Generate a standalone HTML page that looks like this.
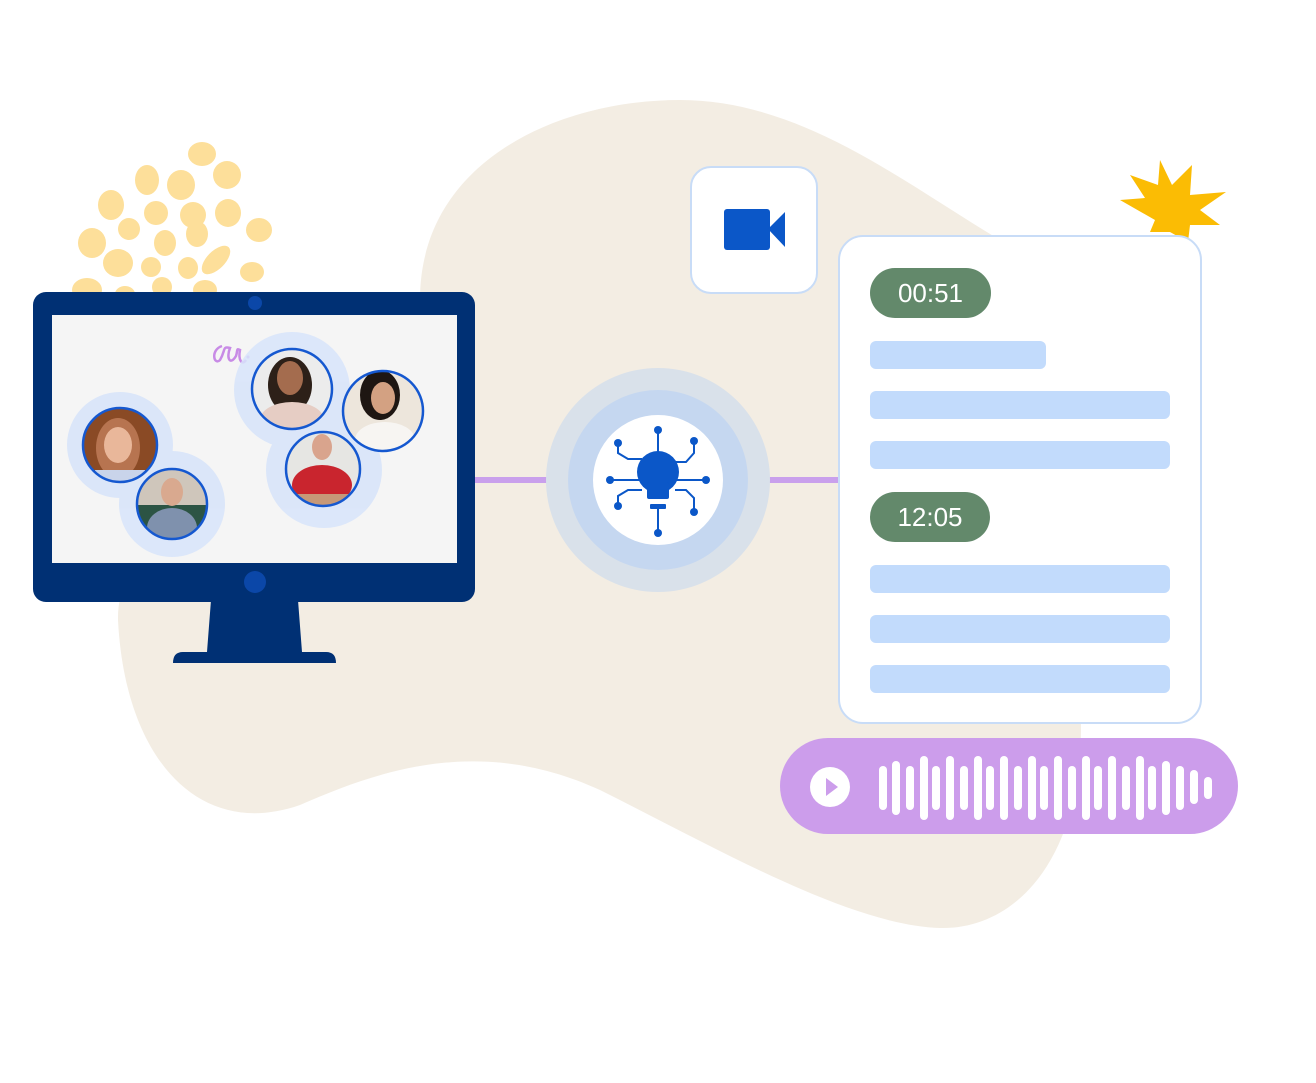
<!DOCTYPE html>
<html><head><meta charset="utf-8"><style>
html,body{margin:0;padding:0;background:#fff;}
body{width:1316px;height:1078px;overflow:hidden;font-family:"Liberation Sans",sans-serif;}
</style></head><body>
<svg width="1316" height="1078" viewBox="0 0 1316 1078" xmlns="http://www.w3.org/2000/svg">
<defs>
<clipPath id="c1"><circle cx="120" cy="445" r="37"/></clipPath>
<clipPath id="c2"><circle cx="172" cy="504" r="35"/></clipPath>
<clipPath id="c3"><circle cx="292" cy="389" r="40"/></clipPath>
<clipPath id="c4"><circle cx="383" cy="411" r="40"/></clipPath>
<clipPath id="c5"><circle cx="323" cy="469" r="37"/></clipPath>
</defs>
<!-- blob -->
<path d="M420 300 C420 160 560 100 680 100 C800 100 900 180 1000 240 L1080 700 C1090 850 1020 930 940 928 C850 925 720 850 600 790 C480 735 380 770 300 805 C200 840 125 760 118 620 C115 480 420 440 420 300 Z" fill="#f3ede3"/>
<!-- dots -->
<g fill="#fddf9a">
<ellipse cx="202" cy="154" rx="14" ry="12"/>
<ellipse cx="147" cy="180" rx="12" ry="15"/>
<ellipse cx="181" cy="185" rx="14" ry="15"/>
<ellipse cx="227" cy="175" rx="14" ry="14"/>
<ellipse cx="111" cy="205" rx="13" ry="15"/>
<ellipse cx="156" cy="213" rx="12" ry="12"/>
<ellipse cx="193" cy="215" rx="13" ry="13"/>
<ellipse cx="197" cy="234" rx="11" ry="13"/>
<ellipse cx="228" cy="213" rx="13" ry="14"/>
<ellipse cx="259" cy="230" rx="13" ry="12"/>
<ellipse cx="129" cy="229" rx="11" ry="11"/>
<ellipse cx="165" cy="243" rx="11" ry="13"/>
<ellipse cx="92" cy="243" rx="14" ry="15"/>
<ellipse cx="118" cy="263" rx="15" ry="14"/>
<ellipse cx="151" cy="267" rx="10" ry="10"/>
<ellipse cx="188" cy="268" rx="10" ry="11"/>
<ellipse cx="216" cy="260" rx="9" ry="18" transform="rotate(45 216 260)"/>
<ellipse cx="252" cy="272" rx="12" ry="10"/>
<ellipse cx="87" cy="290" rx="15" ry="12"/>
<ellipse cx="125" cy="294" rx="10" ry="8"/>
<ellipse cx="162" cy="287" rx="10" ry="10"/>
<ellipse cx="205" cy="290" rx="12" ry="10"/>
</g>
<!-- star -->
<polygon fill="#fbbc04" points="1160,160 1172,185 1192,165 1190,195 1226,192 1200,210 1220,225 1190,225 1188,242 1170,232 1150,232 1155,220 1120,200 1145,198 1130,175 1158,185"/>
<!-- connectors -->
<rect x="470" y="477" width="80" height="6" fill="#c9a0ec"/>
<rect x="765" y="477" width="80" height="6" fill="#c9a0ec"/>
<!-- monitor -->
<path d="M211 600 L298 600 L302 652 L326 652 Q336 652 336 663 L173 663 Q173 652 183 652 L207 652 Z" fill="#003074"/>
<rect x="33" y="292" width="442" height="310" rx="13" fill="#003074"/>
<circle cx="255" cy="303" r="7" fill="#0b47a8"/>
<circle cx="255" cy="582" r="11" fill="#0b47a8"/>
<rect x="52" y="315" width="405" height="248" fill="#f5f5f5"/>
<path d="M222 346 C210 350 214 366 220 360 C226 350 222 346 230 348 C226 358 230 366 236 356 C238 350 236 348 240 350 C238 360 242 366 246 360" fill="none" stroke="#c88be6" stroke-width="2.5"/>
<circle cx="248" cy="357" r="1.5" fill="#c88be6"/>
<!-- halos -->
<g fill="#d7e4fa" opacity="0.85">
<circle cx="120" cy="445" r="53"/>
<circle cx="172" cy="504" r="53"/>
<circle cx="292" cy="390" r="58"/>
<circle cx="324" cy="470" r="58"/>
</g>
<!-- photos -->
<g clip-path="url(#c1)"><rect x="80" y="405" width="80" height="80" fill="#8a4a25"/><ellipse cx="118" cy="448" rx="22" ry="30" fill="#b77450"/><ellipse cx="118" cy="445" rx="14" ry="18" fill="#e9b79a"/><rect x="95" y="470" width="50" height="20" fill="#c9d4ea"/></g>
<g clip-path="url(#c2)"><rect x="135" y="467" width="75" height="75" fill="#cfc6bb"/><rect x="135" y="505" width="75" height="40" fill="#2c5444"/><ellipse cx="172" cy="492" rx="11" ry="14" fill="#d9a98f"/><ellipse cx="172" cy="528" rx="25" ry="20" fill="#7f91ad"/></g>
<g clip-path="url(#c3)"><rect x="250" y="348" width="85" height="85" fill="#ececec"/><ellipse cx="290" cy="385" rx="22" ry="28" fill="#2d2018"/><ellipse cx="290" cy="378" rx="13" ry="17" fill="#a46c4e"/><ellipse cx="292" cy="420" rx="32" ry="18" fill="#e6cdc4"/></g>
<g clip-path="url(#c4)"><rect x="342" y="370" width="85" height="85" fill="#ede6dc"/><ellipse cx="380" cy="395" rx="20" ry="25" fill="#1e1612"/><ellipse cx="383" cy="398" rx="12" ry="16" fill="#d3a182"/><ellipse cx="385" cy="440" rx="30" ry="18" fill="#f7f5f2"/></g>
<g clip-path="url(#c5)"><rect x="285" y="430" width="80" height="80" fill="#e6e6e3"/><ellipse cx="322" cy="447" rx="10" ry="13" fill="#d9a48d"/><ellipse cx="322" cy="485" rx="30" ry="20" fill="#c9252e"/><rect x="290" y="494" width="65" height="12" fill="#c69878"/></g>
<g fill="none" stroke="#1558d0" stroke-width="2.5">
<circle cx="120" cy="445" r="37"/><circle cx="172" cy="504" r="35"/><circle cx="292" cy="389" r="40"/><circle cx="383" cy="411" r="40"/><circle cx="323" cy="469" r="37"/>
</g>
<!-- hub -->
<circle cx="658" cy="480" r="112" fill="#d9e1ea"/>
<circle cx="658" cy="480" r="90" fill="#c5d7f0"/>
<circle cx="658" cy="480" r="65" fill="#fff"/>
<g stroke="#0b57c8" stroke-width="2" fill="none">
<line x1="658" y1="430" x2="658" y2="452"/>
<line x1="658" y1="507" x2="658" y2="533"/>
<line x1="610" y1="480" x2="706" y2="480"/>
<polyline points="618,443 618,453 628,459 642,459"/>
<polyline points="694,441 694,453 686,462 675,462"/>
<polyline points="618,506 618,496 628,490 642,490"/>
<polyline points="694,512 694,498 686,490 675,490"/>
</g>
<g fill="#0b57c8">
<circle cx="658" cy="430" r="4"/><circle cx="658" cy="533" r="4"/><circle cx="610" cy="480" r="4"/><circle cx="706" cy="480" r="4"/>
<circle cx="618" cy="443" r="4"/><circle cx="694" cy="441" r="4"/><circle cx="618" cy="506" r="4"/><circle cx="694" cy="512" r="4"/>
<circle cx="658" cy="472" r="21"/><rect x="647" y="482" width="22" height="17" rx="2"/><rect x="650" y="504" width="16" height="5" rx="1"/>
</g>
<!-- video card -->
<rect x="691" y="167" width="126" height="126" rx="20" fill="#fff" stroke="#c8dcf7" stroke-width="2"/>
<rect x="724" y="209" width="46" height="41" rx="3" fill="#0b57c8"/>
<polygon points="768,229 785,212 785,247" fill="#0b57c8"/>
<!-- transcript card -->
<rect x="839" y="236" width="362" height="487" rx="24" fill="#fff" stroke="#c8dcf7" stroke-width="2"/>
<rect x="870" y="268" width="121" height="50" rx="25" fill="#63896b"/>
<text x="930.5" y="302" font-size="26" fill="#fff" text-anchor="middle" font-family="Liberation Sans, sans-serif">00:51</text>
<g fill="#c2dbfc">
<rect x="870" y="341" width="176" height="28" rx="6"/>
<rect x="870" y="391" width="300" height="28" rx="6"/>
<rect x="870" y="441" width="300" height="28" rx="6"/>
<rect x="870" y="565" width="300" height="28" rx="6"/>
<rect x="870" y="615" width="300" height="28" rx="6"/>
<rect x="870" y="665" width="300" height="28" rx="6"/>
</g>
<rect x="870" y="492" width="120" height="50" rx="25" fill="#63896b"/>
<text x="930" y="526" font-size="26" fill="#fff" text-anchor="middle" font-family="Liberation Sans, sans-serif">12:05</text>
<!-- audio -->
<rect x="780" y="738" width="458" height="96" rx="48" fill="#cc9deb"/>
<circle cx="830" cy="787" r="20" fill="#fff"/>
<polygon points="826,778 838,787 826,796" fill="#cc9deb"/>
<g stroke="#fff" stroke-width="8" stroke-linecap="round">
<line x1="883" y1="770" x2="883" y2="806"/>
<line x1="896" y1="765" x2="896" y2="811"/>
<line x1="910" y1="770" x2="910" y2="806"/>
<line x1="924" y1="760" x2="924" y2="816"/>
<line x1="936" y1="770" x2="936" y2="806"/>
<line x1="950" y1="760" x2="950" y2="816"/>
<line x1="964" y1="770" x2="964" y2="806"/>
<line x1="978" y1="760" x2="978" y2="816"/>
<line x1="990" y1="770" x2="990" y2="806"/>
<line x1="1004" y1="760" x2="1004" y2="816"/>
<line x1="1018" y1="770" x2="1018" y2="806"/>
<line x1="1032" y1="760" x2="1032" y2="816"/>
<line x1="1044" y1="770" x2="1044" y2="806"/>
<line x1="1058" y1="760" x2="1058" y2="816"/>
<line x1="1072" y1="770" x2="1072" y2="806"/>
<line x1="1086" y1="760" x2="1086" y2="816"/>
<line x1="1098" y1="770" x2="1098" y2="806"/>
<line x1="1112" y1="760" x2="1112" y2="816"/>
<line x1="1126" y1="770" x2="1126" y2="806"/>
<line x1="1140" y1="760" x2="1140" y2="816"/>
<line x1="1152" y1="770" x2="1152" y2="806"/>
<line x1="1166" y1="765" x2="1166" y2="811"/>
<line x1="1180" y1="770" x2="1180" y2="806"/>
<line x1="1194" y1="774" x2="1194" y2="800"/>
<line x1="1208" y1="781" x2="1208" y2="795"/>
</g>
</svg>
</body></html>
